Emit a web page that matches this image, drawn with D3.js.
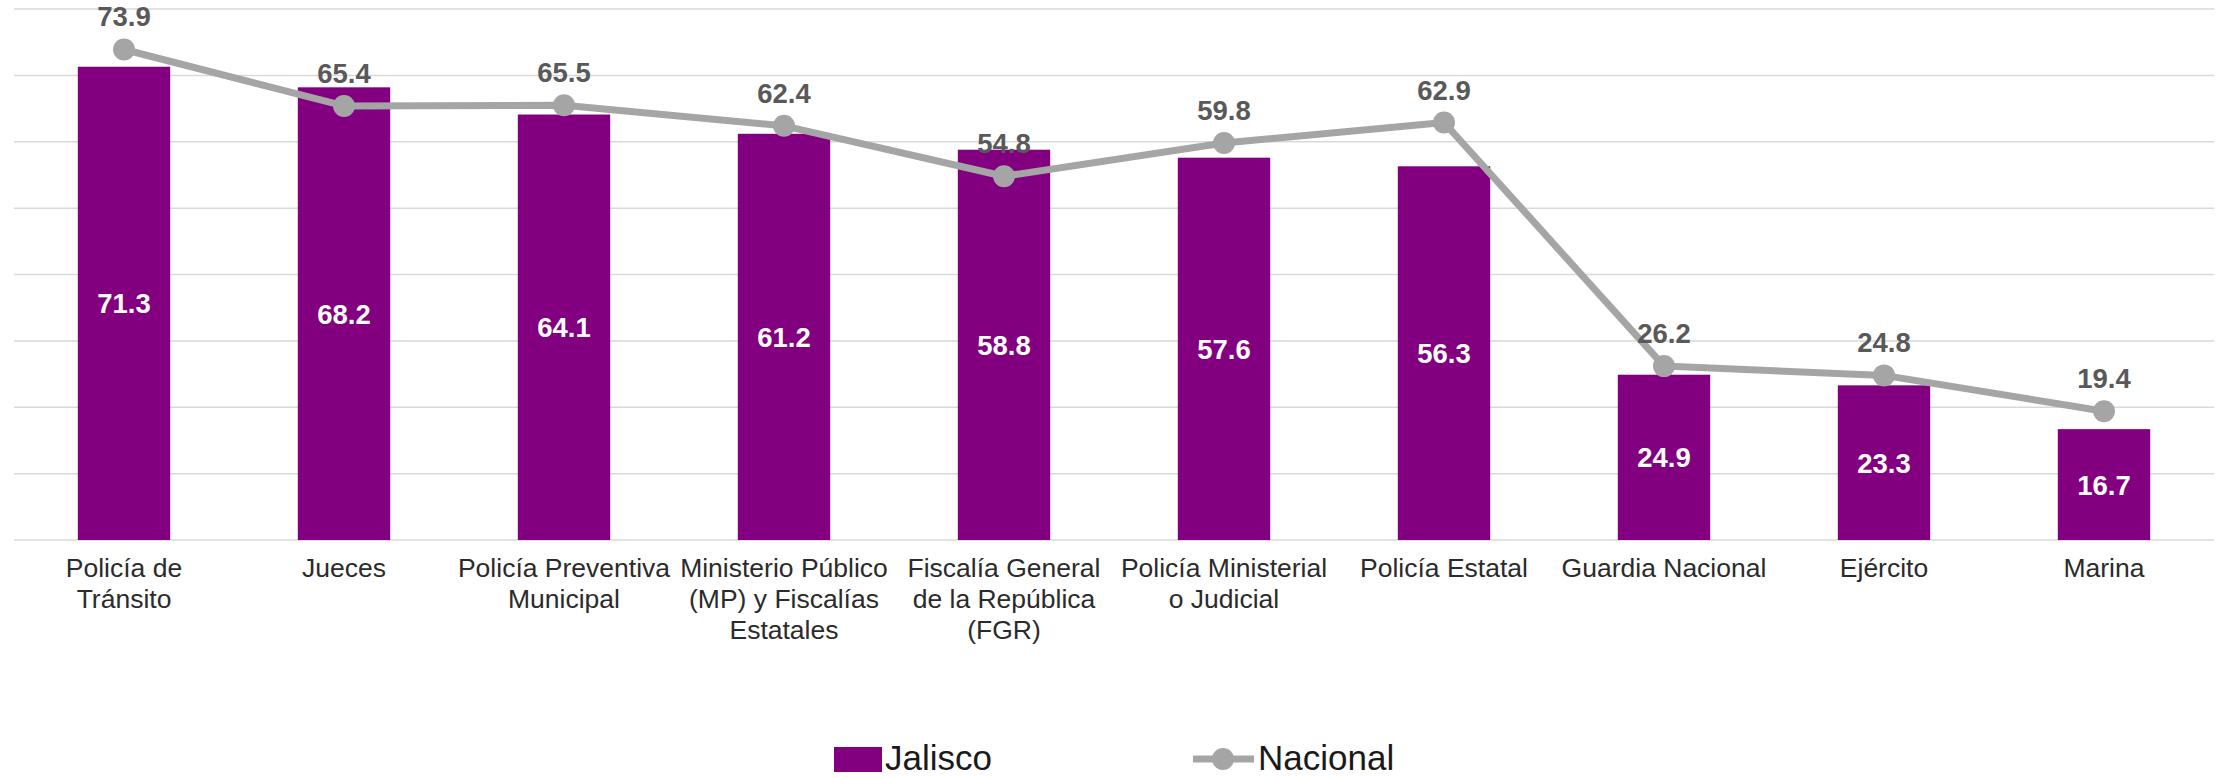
<!DOCTYPE html>
<html>
<head>
<meta charset="utf-8">
<script src="https://cdn.jsdelivr.net/npm/d3@7"></script>
<style>
  body { margin: 0; background: #ffffff; }
  svg { display: block; }
  .cat { font-family: 'Liberation Sans', Arial, sans-serif; font-size: 26.5px; fill: #2b2b2b; }
  .lbl { font-family: 'Liberation Sans', Arial, sans-serif; font-size: 27.5px; font-weight: bold; }
  .leg { font-family: 'Liberation Sans', Arial, sans-serif; font-size: 35px; fill: #1a1a1a; }
</style>
</head>
<body>
<svg id="chart"></svg>
<script>
// categorias (cada una en lineas para el eje)
const categories = [
    ['Policía de', 'Tránsito'],
    ['Jueces'],
    ['Policía Preventiva', 'Municipal'],
    ['Ministerio Público', '(MP) y Fiscalías', 'Estatales'],
    ['Fiscalía General', 'de la República', '(FGR)'],
    ['Policía Ministerial', 'o Judicial'],
    ['Policía Estatal'],
    ['Guardia Nacional'],
    ['Ejército'],
    ['Marina']
];
const jalisco = [71.3, 68.2, 64.1, 61.2, 58.8, 57.6, 56.3, 24.9, 23.3, 16.7];
const nacional = [73.9, 65.4, 65.5, 62.4, 54.8, 59.8, 62.9, 26.2, 24.8, 19.4];
const gridTicks = [0, 10, 20, 30, 40, 50, 60, 70, 80];

const config = {
    width: 2221,
    height: 778,
    left: 14,
    right: 2214,
    top: 9,
    bottom: 540
};

const svg = d3.select('#chart')
    .attr('width', config.width)
    .attr('height', config.height);

const keys = categories.map((c, i) => 'c' + i);

const xscale = d3.scaleBand()
    .domain(keys)
    .range([config.left, config.right])
    .paddingInner(0.58)
    .paddingOuter(0.29);

const yscale = d3.scaleLinear()
    .domain([0, 80])
    .range([config.bottom, config.top]);

// lineas de la cuadricula
svg.append('g')
    .selectAll('line')
    .data(gridTicks)
    .join('line')
    .attr('x1', config.left)
    .attr('x2', config.right)
    .attr('y1', d => yscale(d))
    .attr('y2', d => yscale(d))
    .attr('stroke', '#d9d9d9')
    .attr('stroke-width', 1.5);

// barras Jalisco
svg.append('g')
    .selectAll('rect')
    .data(jalisco)
    .join('rect')
    .attr('x', (d, i) => xscale(keys[i]))
    .attr('width', xscale.bandwidth())
    .attr('y', d => yscale(d))
    .attr('height', d => yscale(0) - yscale(d))
    .attr('fill', '#820080');

svg.append('g')
    .selectAll('text')
    .data(jalisco)
    .join('text')
    .attr('class', 'lbl')
    .attr('x', (d, i) => xscale(keys[i]) + xscale.bandwidth() / 2)
    .attr('y', d => (yscale(d) + yscale(0)) / 2 + 10)
    .attr('text-anchor', 'middle')
    .attr('fill', '#ffffff')
    .text(d => d.toFixed(1));

// linea Nacional
const cx = i => xscale(keys[i]) + xscale.bandwidth() / 2;
const line = d3.line()
    .x((d, i) => cx(i))
    .y(d => yscale(d));

svg.append('path')
    .datum(nacional)
    .attr('d', line)
    .attr('fill', 'none')
    .attr('stroke', '#a5a5a5')
    .attr('stroke-width', 7)
    .attr('stroke-linejoin', 'round');

svg.append('g')
    .selectAll('circle')
    .data(nacional)
    .join('circle')
    .attr('cx', (d, i) => cx(i))
    .attr('cy', d => yscale(d))
    .attr('r', 11)
    .attr('fill', '#a5a5a5');

svg.append('g')
    .selectAll('text')
    .data(nacional)
    .join('text')
    .attr('class', 'lbl')
    .attr('x', (d, i) => cx(i))
    .attr('y', d => yscale(d) - 23)
    .attr('text-anchor', 'middle')
    .attr('fill', '#595959')
    .text(d => d.toFixed(1));

// etiquetas del eje x
const cat = svg.append('g')
    .selectAll('text')
    .data(categories)
    .join('text')
    .attr('class', 'cat')
    .attr('text-anchor', 'middle')
    .attr('y', 577);

cat.selectAll('tspan')
    .data((d, i) => d.map(t => ({ t: t, i: i })))
    .join('tspan')
    .attr('x', d => cx(d.i))
    .attr('dy', (d, j) => j === 0 ? 0 : 31)
    .text(d => d.t);

// leyenda
const legend = svg.append('g');
legend.append('rect')
    .attr('x', 834)
    .attr('y', 747)
    .attr('width', 48)
    .attr('height', 25)
    .attr('fill', '#820080');
legend.append('text')
    .attr('class', 'leg')
    .attr('x', 885)
    .attr('y', 770)
    .text('Jalisco');

legend.append('line')
    .attr('x1', 1193)
    .attr('x2', 1254)
    .attr('y1', 759)
    .attr('y2', 759)
    .attr('stroke', '#a5a5a5')
    .attr('stroke-width', 7);
legend.append('circle')
    .attr('cx', 1223)
    .attr('cy', 759)
    .attr('r', 11)
    .attr('fill', '#a5a5a5');
legend.append('text')
    .attr('class', 'leg')
    .attr('x', 1258)
    .attr('y', 770)
    .text('Nacional');
</script>
</body>
</html>
